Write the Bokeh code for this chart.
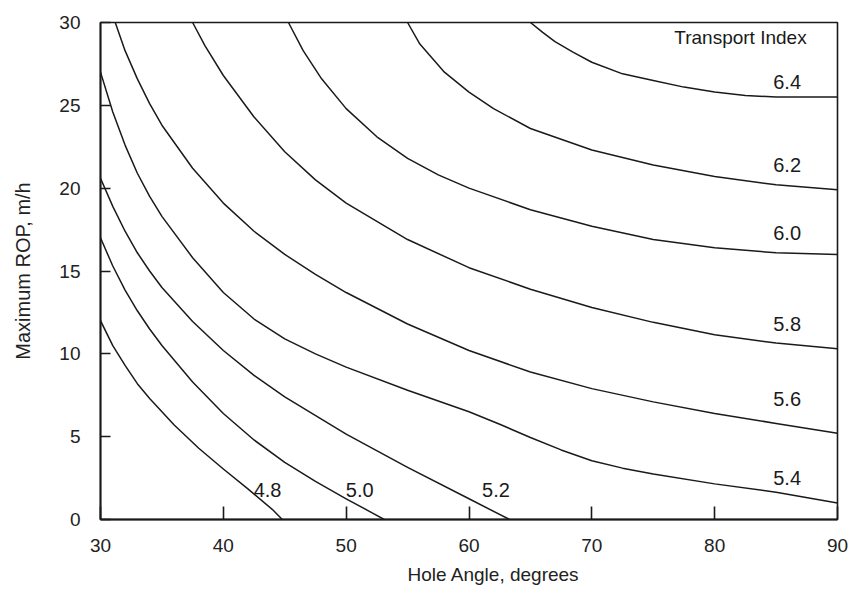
from bokeh.plotting import figure
from bokeh.models import FixedTicker, Range1d, Title, ColumnDataSource
from bokeh.core.properties import value
from bokeh.embed import file_html
from bokeh.resources import INLINE

x_ticks = [30, 40, 50, 60, 70, 80, 90]
y_ticks = [0, 5, 10, 15, 20, 25, 30]

ti48_x = [30, 31, 32, 33, 34, 36, 38, 40, 42, 44, 44.8]
ti48_y = [12.0, 10.5, 9.3, 8.2, 7.3, 5.7, 4.3, 3.05, 1.85, 0.6, 0.0]

ti50_x = [30, 31, 32, 33, 34, 35, 37.5, 40, 42.5, 45, 47.5, 50, 52, 53.1]
ti50_y = [17.0, 15.3, 13.85, 12.6, 11.5, 10.5, 8.3, 6.4, 4.8, 3.45, 2.3, 1.25, 0.45, 0.0]

ti52_x = [30, 31, 32, 33, 34, 35, 37.5, 40, 42.5, 45, 50, 55, 60, 63.3]
ti52_y = [20.6, 18.9, 17.4, 16.1, 15.0, 14.0, 11.95, 10.2, 8.7, 7.4, 5.15, 3.15, 1.25, 0.0]

ti54_x = [30, 31, 32, 33, 34, 35, 37.5, 40, 42.5, 45, 47.5, 50, 55, 60, 62.5, 65, 67.5, 70, 72.5, 75, 80, 85, 90]
ti54_y = [27.0, 24.6, 22.6, 20.9, 19.5, 18.3, 15.8, 13.7, 12.1, 10.9, 10.0, 9.2, 7.8, 6.5, 5.75, 4.95, 4.2, 3.55, 3.1, 2.75, 2.15, 1.65, 1.0]

ti56_x = [31.2, 32, 33, 34, 35, 37.5, 40, 42.5, 45, 47.5, 50, 55, 60, 65, 70, 75, 80, 85, 90]
ti56_y = [30.0, 28.3, 26.6, 25.1, 23.8, 21.2, 19.1, 17.4, 16.0, 14.8, 13.7, 11.8, 10.2, 8.9, 7.9, 7.1, 6.4, 5.8, 5.2]

ti58_x = [37.5, 38.5, 40, 42.5, 45, 47.5, 50, 55, 60, 65, 70, 75, 80, 85, 90]
ti58_y = [30.0, 28.6, 26.8, 24.3, 22.2, 20.5, 19.1, 16.9, 15.2, 13.9, 12.8, 11.9, 11.15, 10.65, 10.3]

ti60_x = [45.3, 46.5, 48, 50, 52.5, 55, 57.5, 60, 65, 70, 75, 80, 85, 90]
ti60_y = [30.0, 28.3, 26.6, 24.8, 23.1, 21.8, 20.8, 20.0, 18.7, 17.7, 16.9, 16.4, 16.1, 16.0]

ti62_x = [55.0, 56, 58, 60, 62, 65, 70, 75, 80, 85, 90]
ti62_y = [30.0, 28.7, 27.0, 25.8, 24.8, 23.6, 22.3, 21.4, 20.7, 20.2, 19.9]

ti64_x = [65.0, 66, 67, 68.5, 70, 72.5, 75, 77.5, 80, 82.5, 85, 90]
ti64_y = [30.0, 29.4, 28.85, 28.2, 27.6, 26.9, 26.5, 26.1, 25.8, 25.6, 25.5, 25.5]

label_text = ["4.8", "5.0", "5.2", "5.4", "5.6", "5.8", "6.0", "6.2", "6.4"]
label_x = [43.6, 51.1, 62.2, 85.9, 85.9, 85.9, 85.9, 85.9, 85.9]
label_y = [1.8, 1.8, 1.8, 2.5, 7.3, 11.8, 17.3, 21.4, 26.4]

legend_title = "Transport Index"
x_title = "Hole Angle, degrees"
y_title = "Maximum ROP, m/h"

FONT = "Liberation Sans"
INK = "#1a1a1a"

p = figure(width=850, height=594, output_backend="svg", toolbar_location=None,
           x_range=Range1d(30, 90), y_range=Range1d(0, 30))
p.min_border_left = 100
p.min_border_right = 13
p.min_border_top = 22
p.min_border_bottom = 75
p.background_fill_color = "white"
p.border_fill_color = "white"
p.outline_line_color = INK
p.outline_line_width = 1.6
p.grid.visible = False

for ax in (p.xaxis[0], p.yaxis[0]):
    ax.axis_line_color = INK
    ax.axis_line_width = 1.8
    ax.major_tick_line_color = INK
    ax.major_tick_line_width = 1.6
    ax.major_tick_out = 0
    ax.minor_tick_line_color = None
    ax.major_label_text_font = FONT
    ax.major_label_text_font_size = "19px"
    ax.major_label_text_color = "#222222"
    ax.axis_label_text_font = FONT
    ax.axis_label_text_font_size = "20px"
    ax.axis_label_text_font_style = "normal"
    ax.axis_label_text_color = "#222222"

p.xaxis[0].ticker = FixedTicker(ticks=x_ticks)
p.yaxis[0].ticker = FixedTicker(ticks=y_ticks)
p.xaxis[0].major_tick_in = 13
p.yaxis[0].major_tick_in = 10
p.xaxis[0].major_label_standoff = 19
p.yaxis[0].major_label_standoff = 20
p.yaxis[0].axis_label = y_title
p.yaxis[0].axis_label_standoff = 22

p.add_layout(Title(text=x_title, align="left", offset=307, text_font=FONT,
                   text_font_size="19px", text_font_style="normal",
                   text_color="#222222", standoff=14), "below")

curves = [(ti48_x, ti48_y), (ti50_x, ti50_y), (ti52_x, ti52_y), (ti54_x, ti54_y),
          (ti56_x, ti56_y), (ti58_x, ti58_y), (ti60_x, ti60_y), (ti62_x, ti62_y),
          (ti64_x, ti64_y)]
for cx, cy in curves:
    p.line(cx, cy, line_color=INK, line_width=1.5, line_join="round")

src = ColumnDataSource(dict(x=label_x, y=label_y, t=label_text))
p.text(x="x", y="y", text="t", source=src, text_font=value(FONT),
       text_font_size="20px", text_color=INK, text_align="center",
       text_baseline="middle")
p.text(x=[82.1], y=[29.1], text=[legend_title], text_font=value(FONT),
       text_font_size="19px", text_color=INK, text_align="center",
       text_baseline="middle")

html = file_html(p, INLINE)
open("out.html", "w").write(html)
